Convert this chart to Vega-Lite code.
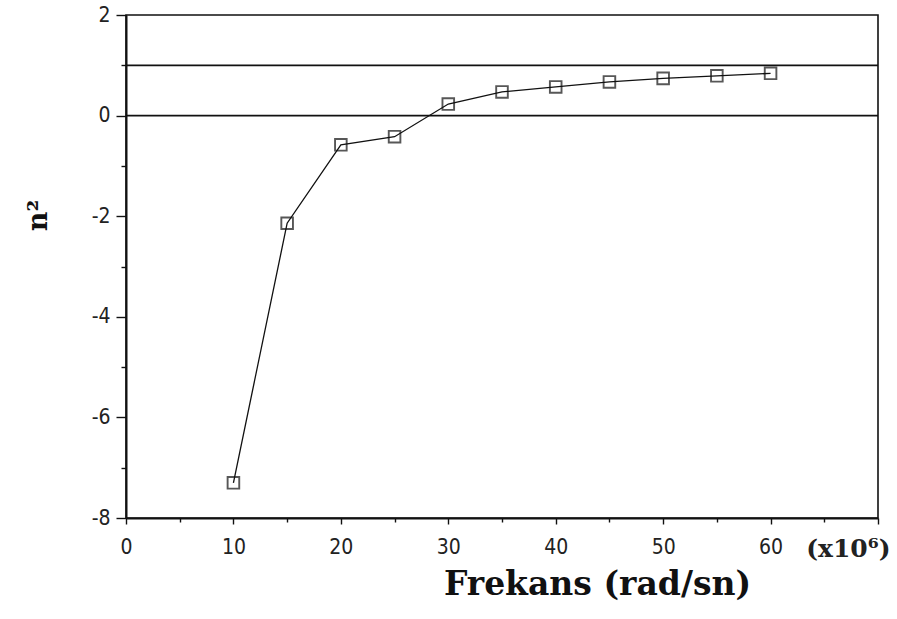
{
  "$schema": "https://vega.github.io/schema/vega-lite/v6.json",
  "autosize": "none",
  "width": 752,
  "height": 503,
  "padding": {"left": 126, "top": 15, "right": 19, "bottom": 101},
  "background": "white",
  "view": {"stroke": "#111", "strokeWidth": 1.6},
  "datasets": {
    "pts": [
      {"f": 10, "n2": -7.30},
      {"f": 15, "n2": -2.14},
      {"f": 20, "n2": -0.58},
      {"f": 25, "n2": -0.42},
      {"f": 30, "n2": 0.23},
      {"f": 35, "n2": 0.47},
      {"f": 40, "n2": 0.57},
      {"f": 45, "n2": 0.67},
      {"f": 50, "n2": 0.74},
      {"f": 55, "n2": 0.79},
      {"f": 60, "n2": 0.84}
    ],
    "refs": [{"y": 0}, {"y": 1}]
  },
  "layer": [
    {
      "data": {"name": "refs"},
      "mark": {"type": "rule", "color": "#111", "strokeWidth": 1.8},
      "encoding": {
        "y": {"field": "y", "type": "quantitative", "scale": {"domain": [-8, 2], "nice": false, "zero": false}}
      }
    },
    {
      "data": {"name": "pts"},
      "mark": {"type": "line", "color": "#111", "strokeWidth": 1.3},
      "encoding": {
        "x": {
          "field": "f", "type": "quantitative",
          "scale": {"domain": [0, 70], "nice": false, "zero": false},
          "axis": {
            "values": [0, 5, 10, 15, 20, 25, 30, 35, 40, 45, 50, 55, 60, 65, 70],
            "labelExpr": "datum.value == 70 ? '(x10⁶)' : (datum.value % 10 == 0 ? datum.label : '')",
            "labelOverlap": false,
            "labelFlush": false,
            "labelFont": {"condition": {"test": "datum.value == 70", "value": "DejaVu Serif"}, "value": "DejaVu Sans Condensed"},
            "labelFontSize": {"condition": {"test": "datum.value == 70", "value": 25}, "value": 21},
            "labelFontWeight": {"condition": {"test": "datum.value == 70", "value": "bold"}, "value": "normal"},
            "labelAlign": {"condition": {"test": "datum.value == 70", "value": "right"}, "value": "center"},
            "labelOffset": {"condition": {"test": "datum.value == 70", "value": 12}, "value": 0},
            "labelColor": "#222",
            "labelPadding": 12,
            "tickSize": {"condition": {"test": "datum.value % 10 == 0", "value": 6}, "value": 4},
            "tickColor": "#111",
            "tickWidth": 1.4,
            "domainColor": "#111",
            "domainWidth": 2,
            "grid": false,
            "title": "Frekans (rad/sn)",
            "titleFont": "DejaVu Serif",
            "titleFontWeight": "bold",
            "titleFontSize": 33,
            "titleColor": "#111",
            "titleAnchor": "middle",
            "titleAlign": "center",
            "titleBaseline": "alphabetic",
            "titleX": 471,
            "titleY": 76
          }
        },
        "y": {
          "field": "n2", "type": "quantitative",
          "scale": {"domain": [-8, 2], "nice": false, "zero": false},
          "axis": {
            "values": [-8, -7, -6, -5, -4, -3, -2, -1, 0, 1, 2],
            "labelExpr": "datum.value % 2 == 0 ? replace(datum.label, '−', '-') : ''",
            "labelOverlap": false,
            "labelFlush": false,
            "labelFont": "DejaVu Sans Condensed",
            "labelFontSize": 21,
            "labelColor": "#222",
            "labelPadding": 6,
            "tickSize": {"condition": {"test": "datum.value % 2 == 0", "value": 10}, "value": 5},
            "tickColor": "#111",
            "tickWidth": 1.4,
            "domainColor": "#111",
            "domainWidth": 2,
            "grid": false,
            "title": "n²",
            "titleFont": "DejaVu Serif",
            "titleFontWeight": "bold",
            "titleFontSize": 27,
            "titleColor": "#111",
            "titleAngle": 270,
            "titleAlign": "center",
            "titleBaseline": "alphabetic",
            "titleX": -80,
            "titleY": 200
          }
        }
      }
    },
    {
      "data": {"name": "pts"},
      "mark": {"type": "point", "shape": "square", "filled": false, "color": "#111", "size": 135, "strokeWidth": 1.9},
      "encoding": {
        "x": {"field": "f", "type": "quantitative"},
        "y": {"field": "n2", "type": "quantitative"}
      }
    }
  ]
}
